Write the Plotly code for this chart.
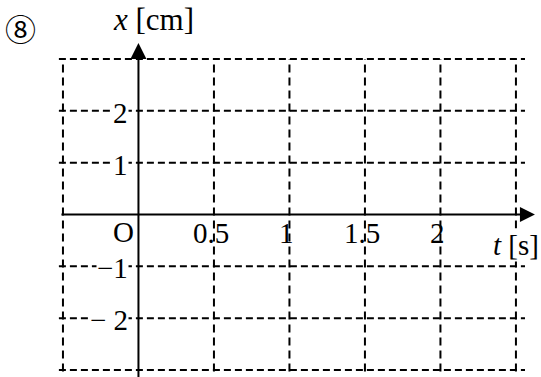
import plotly.graph_objects as go

# ---- data ----
t_grid = [-0.5, 0.5, 1.0, 1.5, 2.0, 2.5]          # vertical dashed grid lines [s]
x_grid = [-3, -2, -1, 1, 2, 3]                    # horizontal dashed grid lines [cm]
t_tick_vals = [0.5, 1.0, 1.5, 2.0]
t_tick_text = ["0.5", "1", "1.5", "2"]
x_tick_vals = [2, 1, -1, -2]
x_tick_text = ["2", "1", "−1", "− 2"]
t_span = [-0.527, 2.56]     # horizontal extent of the grid
x_span = [-3.03, 3.0]       # vertical extent of the grid
t_axis = [-0.52, 2.626]     # time axis (tail, arrow tip)
x_axis = [-3.3, 3.31]       # displacement axis (tail, arrow tip)

FONT = "Liberation Serif, Times New Roman, serif"
fig = go.Figure()

# horizontal dashed lines
hx, hy = [], []
for v in x_grid:
    hx += [t_span[0], t_span[1], None]
    hy += [v, v, None]
fig.add_trace(go.Scatter(x=hx, y=hy, mode="lines", hoverinfo="skip",
                         line=dict(color="black", width=2, dash="7px,4px")))
# vertical dashed lines
vx, vy = [], []
for v in t_grid:
    vx += [v, v, None]
    vy += [x_span[0], x_span[1], None]
fig.add_trace(go.Scatter(x=vx, y=vy, mode="lines", hoverinfo="skip",
                         line=dict(color="black", width=2, dash="8px,5px")))

# axes with arrowheads
fig.add_annotation(x=t_axis[1], y=0, ax=t_axis[0], ay=0, xref="x", yref="y",
                   axref="x", ayref="y", text="", showarrow=True,
                   arrowhead=2, arrowwidth=2, arrowsize=1.5, arrowcolor="black")
fig.add_annotation(x=0, y=x_axis[1], ax=0, ay=x_axis[0], xref="x", yref="y",
                   axref="x", ayref="y", text="", showarrow=True,
                   arrowhead=2, arrowwidth=2, arrowsize=1.6, arrowcolor="black")

# tick labels
for v, s in zip(t_tick_vals, t_tick_text):
    fig.add_annotation(x=v, y=0, xref="x", yref="y", text=s, showarrow=False,
                       xanchor="center", yanchor="middle", xshift=-3, yshift=-18,
                       font=dict(family=FONT, size=29, color="black"))
for v, s in zip(x_tick_vals, x_tick_text):
    fig.add_annotation(x=0, y=v, xref="x", yref="y", text=s, showarrow=False,
                       xanchor="right", yanchor="middle", xshift=-9, yshift=-2,
                       bgcolor="white", borderpad=0,
                       font=dict(family=FONT, size=29, color="black"))
fig.add_annotation(x=0, y=0, xref="x", yref="y", text="O", showarrow=False,
                   xanchor="right", yanchor="middle", xshift=-2, yshift=-17,
                   font=dict(family=FONT, size=29, color="black"))

# axis titles
fig.add_annotation(x=t_axis[1], y=0, xref="x", yref="y", text="<i>t</i> [s]",
                   showarrow=False, xanchor="right", yanchor="middle",
                   xshift=5, yshift=-30, bgcolor="white", borderpad=0,
                   font=dict(family=FONT, size=29, color="black"))
fig.add_annotation(x=0, y=x_axis[1], xref="x", yref="y", text="<i>x</i> [cm]",
                   showarrow=False, xanchor="left", yanchor="middle",
                   xshift=-27, yshift=23,
                   font=dict(family=FONT, size=31, color="black"))
fig.add_annotation(x=0.0388, y=0.920, xref="paper", yref="paper", text="⑧",
                   showarrow=False, xanchor="center", yanchor="middle",
                   font=dict(family="DejaVu Serif, Noto Sans CJK JP", size=31, color="black"))

fig.update_layout(
    width=541, height=377,
    margin=dict(l=0, r=0, t=0, b=0),
    paper_bgcolor="white", plot_bgcolor="white",
    showlegend=False,
    xaxis=dict(range=[-0.917, 2.666], visible=False, fixedrange=True),
    yaxis=dict(range=[-3.135, 4.138], visible=False, fixedrange=True),
)
# remove the default 8px page margin so the figure fills the window
fig.write_html("out.html", config={"displayModeBar": False},
               post_script="document.body.style.margin='0';")
